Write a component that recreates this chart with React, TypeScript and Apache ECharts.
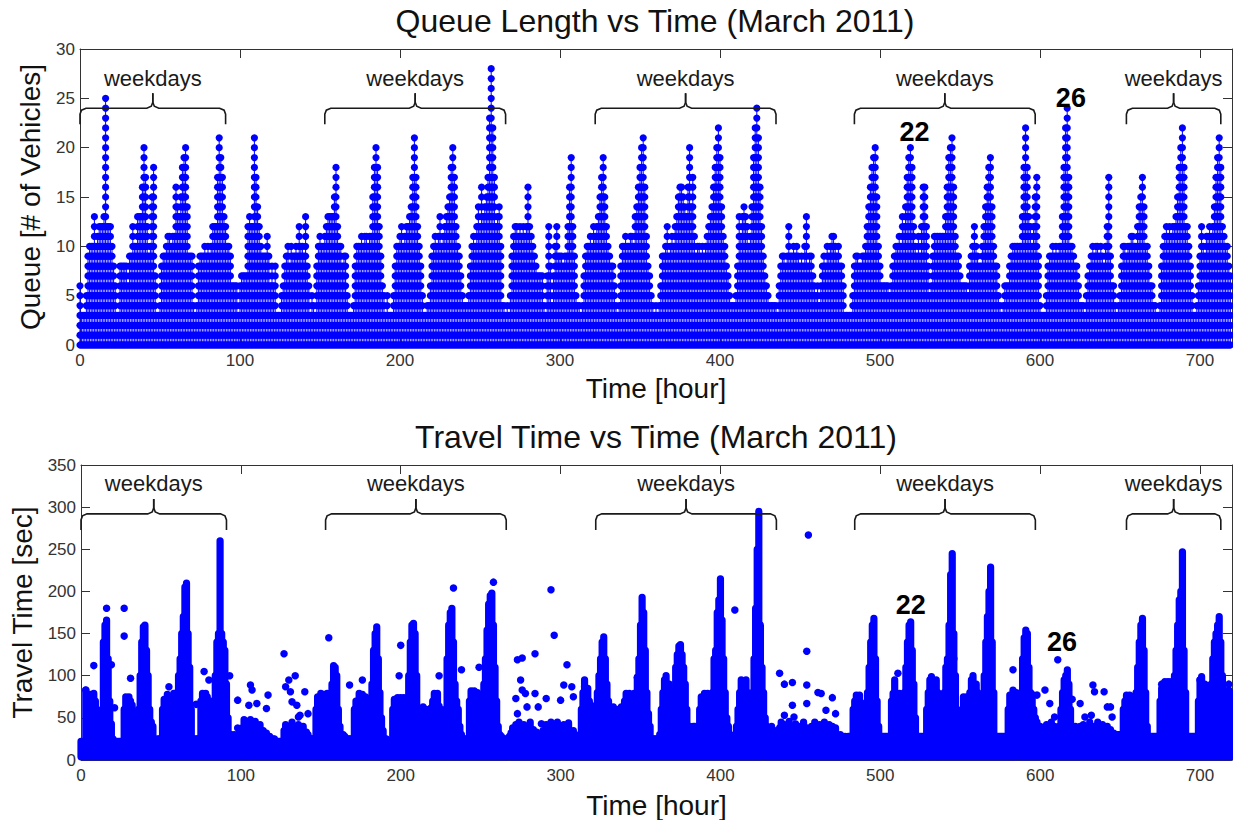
import React, { useEffect, useRef } from 'react';
import * as echarts from 'echarts';

const FONT = '"Liberation Sans", Arial, Helvetica, sans-serif';
const BLUE = '#0000ff';
const INK = '#111111';
const AXIS = '#333333';

// Hourly queue length (max # of vehicles), one row of 24 hours per day, March 2011
const queueByDay: number[][] = [
  [6, 3, 3, 3, 5, 9, 10, 10, 10, 13, 10, 11, 12, 12, 12, 13, 25, 12, 12, 12, 10, 8, 6, 3],
  [3, 8, 8, 8, 8, 8, 6, 9, 9, 12, 10, 10, 13, 13, 13, 16, 20, 17, 12, 9, 10, 15, 18, 7],
  [3, 3, 4, 8, 9, 9, 10, 11, 11, 10, 11, 11, 16, 14, 13, 15, 18, 19, 20, 14, 9, 9, 9, 4],
  [3, 4, 8, 9, 9, 9, 10, 9, 10, 9, 10, 12, 12, 12, 17, 21, 19, 17, 13, 12, 10, 10, 9, 6],
  [6, 6, 6, 3, 6, 7, 7, 7, 7, 12, 13, 12, 12, 21, 17, 14, 12, 10, 9, 9, 9, 11, 9, 6],
  [8, 6, 8, 3, 3, 3, 5, 6, 8, 9, 10, 8, 10, 9, 9, 10, 9, 12, 10, 10, 9, 13, 8, 6],
  [3, 5, 4, 3, 8, 10, 11, 10, 10, 11, 12, 13, 13, 13, 13, 15, 18, 12, 10, 10, 8, 9, 9, 5],
  [3, 3, 3, 4, 8, 10, 10, 10, 11, 10, 11, 11, 10, 11, 11, 15, 18, 20, 18, 12, 9, 6, 5, 3],
  [5, 3, 3, 3, 5, 8, 10, 10, 11, 12, 10, 11, 12, 12, 13, 14, 17, 21, 17, 12, 10, 8, 5, 3],
  [3, 4, 4, 6, 9, 10, 11, 10, 11, 13, 10, 11, 12, 13, 14, 15, 18, 20, 17, 12, 10, 9, 7, 5],
  [4, 4, 4, 5, 8, 10, 11, 10, 12, 14, 12, 16, 13, 14, 15, 17, 23, 28, 22, 17, 12, 13, 14, 10],
  [4, 4, 3, 4, 3, 5, 9, 11, 12, 12, 11, 12, 11, 12, 11, 12, 16, 12, 11, 10, 9, 8, 7, 7],
  [7, 7, 4, 3, 7, 12, 8, 4, 7, 10, 12, 9, 9, 9, 8, 9, 9, 12, 16, 19, 12, 9, 5, 4],
  [4, 3, 4, 7, 9, 10, 10, 11, 10, 12, 11, 12, 13, 15, 17, 19, 15, 12, 10, 9, 8, 8, 6, 4],
  [3, 4, 8, 10, 10, 11, 10, 10, 11, 11, 10, 13, 14, 16, 18, 20, 21, 16, 11, 8, 7, 5, 4, 3],
  [4, 3, 4, 6, 9, 9, 10, 12, 9, 10, 11, 10, 12, 13, 15, 16, 16, 15, 14, 13, 16, 20, 14, 17],
  [11, 9, 10, 10, 9, 10, 9, 10, 11, 12, 13, 14, 16, 18, 20, 22, 19, 14, 11, 10, 8, 7, 5, 4],
  [4, 4, 5, 8, 13, 11, 13, 14, 13, 12, 10, 11, 14, 19, 22, 24, 21, 16, 12, 9, 7, 6, 5, 4],
  [4, 4, 4, 4, 3, 6, 8, 9, 9, 8, 9, 12, 9, 9, 10, 9, 10, 9, 8, 9, 8, 10, 13, 8],
  [9, 9, 7, 6, 5, 6, 4, 6, 8, 9, 8, 10, 9, 10, 11, 11, 10, 9, 10, 8, 8, 6, 3, 3],
  [3, 3, 3, 5, 8, 9, 9, 8, 8, 9, 9, 10, 12, 14, 16, 18, 19, 20, 15, 10, 8, 6, 6, 6],
  [6, 6, 5, 6, 8, 9, 10, 10, 11, 10, 13, 12, 14, 17, 19, 20, 18, 12, 10, 9, 11, 9, 12, 16],
  [16, 12, 8, 5, 6, 9, 11, 11, 11, 11, 11, 11, 11, 13, 16, 19, 20, 21, 16, 11, 9, 9, 7, 6],
  [6, 6, 6, 5, 8, 9, 10, 12, 10, 9, 8, 8, 10, 12, 14, 16, 18, 19, 14, 10, 8, 8, 5, 4],
  [3, 4, 6, 6, 6, 8, 9, 10, 10, 10, 10, 10, 10, 13, 18, 22, 18, 13, 12, 10, 12, 15, 17, 9],
  [4, 3, 3, 3, 5, 8, 9, 9, 10, 9, 10, 9, 10, 10, 13, 18, 22, 24, 17, 10, 10, 9, 8, 8],
  [6, 4, 4, 4, 3, 5, 7, 8, 9, 10, 9, 10, 10, 9, 10, 9, 8, 10, 12, 17, 9, 6, 6, 4],
  [3, 4, 5, 8, 10, 10, 9, 10, 10, 11, 11, 10, 10, 12, 14, 15, 17, 14, 10, 10, 8, 6, 6, 4],
  [4, 3, 3, 4, 8, 10, 11, 12, 11, 12, 11, 12, 12, 13, 15, 18, 20, 22, 18, 12, 12, 10, 8, 5],
  [3, 3, 4, 6, 9, 12, 10, 9, 11, 11, 12, 11, 12, 14, 17, 19, 21, 18, 12, 11, 10, 10, 8, 7],
];

// Hourly upper edge of the dense cloud of travel times [sec], one row per day
const travelByDay: number[][] = [
  [22, 22, 22, 83, 70, 75, 78, 66, 79, 70, 60, 45, 30, 50, 140, 160, 166, 120, 70, 43, 25, 22, 22, 22],
  [22, 22, 22, 60, 75, 64, 75, 70, 65, 48, 45, 40, 60, 100, 140, 158, 160, 130, 100, 60, 45, 40, 25, 22],
  [25, 25, 25, 60, 72, 64, 78, 68, 75, 62, 79, 70, 80, 100, 120, 150, 170, 205, 210, 150, 110, 60, 25, 25],
  [25, 25, 25, 70, 79, 66, 79, 75, 64, 70, 60, 50, 100, 140, 150, 260, 150, 140, 130, 90, 50, 30, 30, 28],
  [30, 28, 25, 32, 28, 38, 48, 35, 45, 30, 48, 40, 33, 46, 38, 30, 42, 28, 35, 30, 32, 25, 28, 25],
  [25, 25, 22, 22, 22, 22, 22, 35, 42, 30, 40, 28, 45, 33, 38, 28, 42, 30, 36, 40, 28, 33, 30, 26],
  [25, 25, 25, 60, 75, 66, 79, 70, 78, 64, 79, 60, 40, 90, 112, 110, 100, 60, 40, 30, 30, 28, 25, 25],
  [25, 25, 25, 60, 70, 63, 79, 70, 78, 65, 75, 60, 45, 50, 90, 130, 150, 158, 120, 80, 50, 35, 25, 25],
  [23, 23, 23, 60, 72, 64, 74, 66, 74, 60, 74, 60, 45, 100, 140, 160, 162, 150, 100, 60, 40, 60, 63, 55],
  [60, 48, 55, 62, 70, 79, 66, 79, 64, 60, 45, 30, 60, 120, 160, 175, 180, 140, 90, 70, 60, 40, 30, 25],
  [25, 25, 25, 70, 82, 70, 82, 72, 80, 68, 60, 40, 90, 120, 154, 185, 195, 198, 160, 110, 70, 40, 30, 28],
  [25, 25, 25, 25, 28, 32, 38, 30, 42, 28, 45, 35, 30, 42, 28, 38, 33, 45, 30, 36, 28, 33, 30, 28],
  [30, 35, 28, 42, 30, 38, 45, 28, 40, 33, 45, 30, 38, 28, 42, 35, 30, 44, 33, 28, 35, 30, 28, 25],
  [30, 60, 80, 95, 78, 85, 70, 65, 45, 40, 60, 80, 100, 120, 140, 146, 120, 90, 70, 63, 60, 63, 60, 55],
  [60, 52, 63, 45, 70, 79, 66, 79, 68, 75, 79, 64, 98, 120, 160, 193, 175, 130, 80, 55, 40, 25, 25, 25],
  [25, 25, 30, 60, 80, 95, 100, 88, 90, 50, 40, 80, 110, 125, 135, 137, 125, 110, 90, 60, 40, 40, 38, 40],
  [40, 33, 40, 60, 75, 68, 79, 70, 79, 62, 50, 80, 120, 130, 175, 190, 215, 166, 120, 80, 50, 40, 30, 28],
  [28, 30, 40, 60, 80, 95, 82, 90, 95, 80, 60, 50, 80, 120, 180, 250, 295, 160, 110, 80, 50, 40, 35, 30],
  [40, 30, 35, 28, 30, 38, 45, 30, 42, 35, 28, 46, 33, 40, 28, 43, 35, 30, 40, 33, 45, 30, 38, 35],
  [33, 40, 28, 45, 35, 30, 42, 28, 38, 45, 30, 36, 42, 28, 40, 33, 38, 30, 28, 30, 28, 26, 28, 26],
  [28, 28, 28, 60, 70, 77, 66, 77, 68, 60, 50, 45, 80, 110, 140, 160, 168, 120, 70, 40, 28, 28, 28, 28],
  [28, 28, 28, 70, 79, 95, 79, 68, 79, 70, 50, 80, 110, 140, 160, 164, 130, 90, 50, 28, 28, 28, 28, 28],
  [28, 60, 80, 95, 99, 84, 90, 95, 80, 60, 50, 60, 80, 110, 120, 160, 220, 245, 150, 100, 60, 45, 40, 40],
  [75, 70, 75, 60, 80, 95, 100, 86, 90, 80, 50, 40, 60, 100, 140, 170, 200, 229, 140, 80, 28, 28, 28, 28],
  [28, 28, 28, 28, 60, 77, 68, 83, 72, 80, 70, 66, 80, 120, 145, 154, 150, 110, 80, 78, 60, 50, 45, 40],
  [40, 32, 38, 28, 42, 35, 30, 45, 33, 40, 28, 36, 40, 60, 80, 95, 100, 107, 90, 60, 40, 33, 40, 30],
  [35, 40, 28, 42, 33, 38, 30, 45, 35, 28, 40, 33, 45, 30, 38, 42, 28, 35, 40, 30, 36, 28, 32, 30],
  [30, 30, 30, 30, 60, 70, 77, 66, 77, 64, 75, 60, 80, 110, 140, 160, 168, 130, 80, 40, 28, 28, 28, 28],
  [28, 28, 28, 70, 85, 76, 93, 80, 93, 78, 93, 80, 100, 130, 160, 190, 200, 247, 130, 80, 28, 28, 28, 28],
  [28, 28, 28, 70, 95, 99, 85, 90, 78, 80, 60, 90, 120, 140, 150, 160, 170, 140, 100, 83, 70, 80, 83, 80],
];

// Isolated travel-time points [hour, sec]
const travelOutliers: number[][] = [
  [3, 83], [8, 112], [16, 180], [19, 113], [21, 62], [27, 180], [27, 147], [31, 97], [55, 87],
  [72, 66], [77, 105], [80, 95], [93, 100], [98, 71], [98, 38], [105, 65], [106, 89], [107, 83],
  [110, 67], [116, 61], [117, 77], [127, 126], [128, 87], [130, 95], [131, 81], [132, 69],
  [134, 100], [135, 65], [136, 51], [137, 53], [140, 81], [142, 55], [155, 145], [168, 89],
  [176, 95], [199, 100], [200, 136], [224, 100], [233, 204], [238, 107], [249, 110], [258, 211],
  [272, 73], [273, 119], [273, 55], [275, 95], [276, 121], [276, 83], [278, 79], [279, 63],
  [284, 126], [284, 79], [286, 63], [288, 43], [291, 73], [294, 202], [296, 148], [300, 71],
  [302, 89], [304, 113], [307, 87], [308, 75], [315, 87], [348, 98], [409, 178], [437, 103],
  [440, 90], [440, 53], [445, 92], [445, 65], [446, 51], [454, 129], [454, 89], [454, 67],
  [455, 267], [461, 80], [463, 79], [466, 59], [470, 74], [472, 55], [511, 103], [546, 120],
  [583, 107], [598, 77], [603, 83], [606, 67], [609, 51], [611, 119], [620, 72], [625, 67],
  [628, 51], [632, 53], [633, 89], [634, 81], [640, 81], [642, 63], [644, 63], [645, 51],
  [676, 90], [680, 90], [700, 95], [718, 90],
];

// "weekdays" brace ranges [hour]
const weekdayStart = [0, 153, 322, 484, 654];
const weekdayEnd = [91, 266, 435, 597, 713];
const braceLabel = 'weekdays';
const queueBraceLevel = 24;
const travelBraceLevel = 292;

// Day-of-month annotations
const dayMarkText = ['22', '26'];
const queueDayMarkHour = [521.6, 619.3];
const queueDayMarkValue = [21.6, 25.0];
const travelDayMarkHour = [519, 613.6];
const travelDayMarkValue = [184, 140];

const queueTitle = 'Queue Length vs Time (March 2011)';
const travelTitle = 'Travel Time vs Time (March 2011)';

const queueData = queueByDay.flatMap((day, d) => day.map((v, i) => [d * 24 + i, v]));
const travelData = travelByDay.flatMap((day, d) => day.map((v, i) => [d * 24 + i, v]));
const queueBraces = weekdayStart.map((s, i) => [s, weekdayEnd[i], queueBraceLevel]);
const travelBraces = weekdayStart.map((s, i) => [s, weekdayEnd[i], travelBraceLevel]);
const queueMarks = dayMarkText.map((_, i) => [queueDayMarkHour[i], queueDayMarkValue[i]]);
const travelMarks = dayMarkText.map((_, i) => [travelDayMarkHour[i], travelDayMarkValue[i]]);

function renderQueue(_params: any, api: any) {
  const h = api.value(0);
  const v = api.value(1);
  const b = api.coord([h, 0]);
  const t = api.coord([h, v]);
  const children: any[] = [
    { type: 'line', shape: { x1: b[0], y1: b[1], x2: t[0], y2: t[1] }, style: { stroke: BLUE, lineWidth: 1 } },
  ];
  for (let k = 0; k <= v; k++) {
    const p = api.coord([h, k]);
    children.push({ type: 'circle', shape: { cx: p[0], cy: p[1], r: 3.6 }, style: { fill: BLUE } });
  }
  return { type: 'group', children };
}

function renderTravel(_params: any, api: any) {
  const h = api.value(0);
  const v = api.value(1);
  const b = api.coord([h, 4]);
  const t = api.coord([h, v]);
  return {
    type: 'rect',
    shape: { x: t[0] - 3.6, y: t[1] - 3.6, width: 7.2, height: b[1] - t[1] + 7.2, r: 3.6 },
    style: { fill: BLUE },
  };
}

function renderBrace(_params: any, api: any) {
  const L = api.coord([api.value(0), api.value(2)]);
  const R = api.coord([api.value(1), api.value(2)]);
  const y = L[1];
  const x1 = L[0];
  const x2 = R[0];
  const m = (x1 + x2) / 2;
  const st = { stroke: '#1a1a1a', lineWidth: 1.6, fill: 'none' };
  return {
    type: 'group',
    children: [
      {
        type: 'polyline',
        shape: { points: [[x1, y + 16], [x1, y + 6], [x1 + 1.5, y + 2], [x1 + 6, y], [m - 6, y], [m - 1.5, y - 2], [m, y - 6], [m, y - 15]] },
        style: st,
      },
      {
        type: 'polyline',
        shape: { points: [[x2, y + 16], [x2, y + 6], [x2 - 1.5, y + 2], [x2 - 6, y], [m + 6, y], [m + 1.5, y - 2], [m, y - 6], [m, y - 15]] },
        style: st,
      },
      {
        type: 'text',
        x: m,
        y: y - 30,
        style: {
          text: braceLabel, font: `22px ${FONT}`, fill: '#1a1a1a',
          align: 'center', verticalAlign: 'middle', textAlign: 'center', textVerticalAlign: 'middle',
        },
      },
    ],
  };
}

function renderMark(params: any, api: any) {
  const p = api.coord([api.value(0), api.value(1)]);
  return {
    type: 'text',
    x: p[0],
    y: p[1],
    style: {
      text: dayMarkText[params.dataIndex], font: `bold 27px ${FONT}`, fill: '#000',
      align: 'center', verticalAlign: 'middle', textAlign: 'center', textVerticalAlign: 'middle',
    },
  };
}

function xAxesFor(grid: number, name: string, nameGap: number) {
  const common = {
    gridIndex: grid, type: 'value', min: 0, max: 720, interval: 100,
    splitLine: { show: false },
    axisLine: { show: true, onZero: false, lineStyle: { color: AXIS, width: 1 } },
    axisTick: { show: true, inside: true, length: 9, lineStyle: { color: AXIS } },
  };
  return [
    {
      ...common, position: 'bottom', name, nameLocation: 'middle', nameGap,
      nameTextStyle: { fontSize: 28, color: INK, fontFamily: FONT },
      axisLabel: {
        fontSize: 17, color: AXIS, fontFamily: FONT, margin: 7, showMaxLabel: false,
        formatter: (v: number) => (v % 100 === 0 ? String(v) : ''),
      },
    },
    { ...common, position: 'top', axisLabel: { show: false } },
  ];
}

function yAxesFor(grid: number, max: number, interval: number, name: string, nameGap: number) {
  const common = {
    gridIndex: grid, type: 'value', min: 0, max, interval,
    splitLine: { show: false },
    axisLine: { show: true, onZero: false, lineStyle: { color: AXIS, width: 1 } },
    axisTick: { show: true, inside: true, length: 9, lineStyle: { color: AXIS } },
  };
  return [
    {
      ...common, position: 'left', name, nameLocation: 'middle', nameGap,
      nameTextStyle: { fontSize: 28, color: INK, fontFamily: FONT },
      axisLabel: { fontSize: 17, color: AXIS, fontFamily: FONT, margin: 5 },
    },
    { ...common, position: 'right', axisLabel: { show: false } },
  ];
}

export default function App() {
  const ref = useRef<HTMLDivElement>(null);
  useEffect(() => {
    const chart = echarts.init(ref.current as HTMLDivElement, null, { renderer: 'svg' });
    const option: any = {
      animation: false,
      backgroundColor: '#ffffff',
      grid: [
        { left: 80, top: 49, width: 1152, height: 296 },
        { left: 80, top: 465, width: 1152, height: 295 },
      ],
      xAxis: [...xAxesFor(0, 'Time [hour]', 29), ...xAxesFor(1, 'Time [hour]', 31)],
      yAxis: [
        ...yAxesFor(0, 30, 5, 'Queue [# of Vehicles]', 36),
        ...yAxesFor(1, 350, 50, 'Travel Time [sec]', 45),
      ],
      graphic: [
        {
          type: 'text', x: 655, y: 21, z: 10,
          style: {
            text: queueTitle, font: `32px ${FONT}`, fill: INK,
            align: 'center', verticalAlign: 'middle', textAlign: 'center', textVerticalAlign: 'middle',
          },
        },
        {
          type: 'text', x: 656, y: 437, z: 10,
          style: {
            text: travelTitle, font: `32px ${FONT}`, fill: INK,
            align: 'center', verticalAlign: 'middle', textAlign: 'center', textVerticalAlign: 'middle',
          },
        },
      ],
      series: [
        { type: 'custom', xAxisIndex: 0, yAxisIndex: 0, data: queueData, renderItem: renderQueue, clip: false, z: 2 },
        { type: 'custom', xAxisIndex: 0, yAxisIndex: 0, data: queueBraces, renderItem: renderBrace, z: 5 },
        { type: 'custom', xAxisIndex: 0, yAxisIndex: 0, data: queueMarks, renderItem: renderMark, z: 6 },
        { type: 'custom', xAxisIndex: 2, yAxisIndex: 2, data: travelData, renderItem: renderTravel, clip: false, z: 2 },
        {
          type: 'scatter', xAxisIndex: 2, yAxisIndex: 2, data: travelOutliers, symbol: 'circle', symbolSize: 7.5,
          itemStyle: { color: BLUE, opacity: 1 }, z: 3,
        },
        { type: 'custom', xAxisIndex: 2, yAxisIndex: 2, data: travelBraces, renderItem: renderBrace, z: 5 },
        { type: 'custom', xAxisIndex: 2, yAxisIndex: 2, data: travelMarks, renderItem: renderMark, z: 6 },
      ],
    };
    chart.setOption(option);
    return () => chart.dispose();
  }, []);
  return (
    <div
      ref={ref}
      style={{ position: 'fixed', left: 0, top: 0, width: 1233, height: 820, background: '#fff' }}
    />
  );
}
